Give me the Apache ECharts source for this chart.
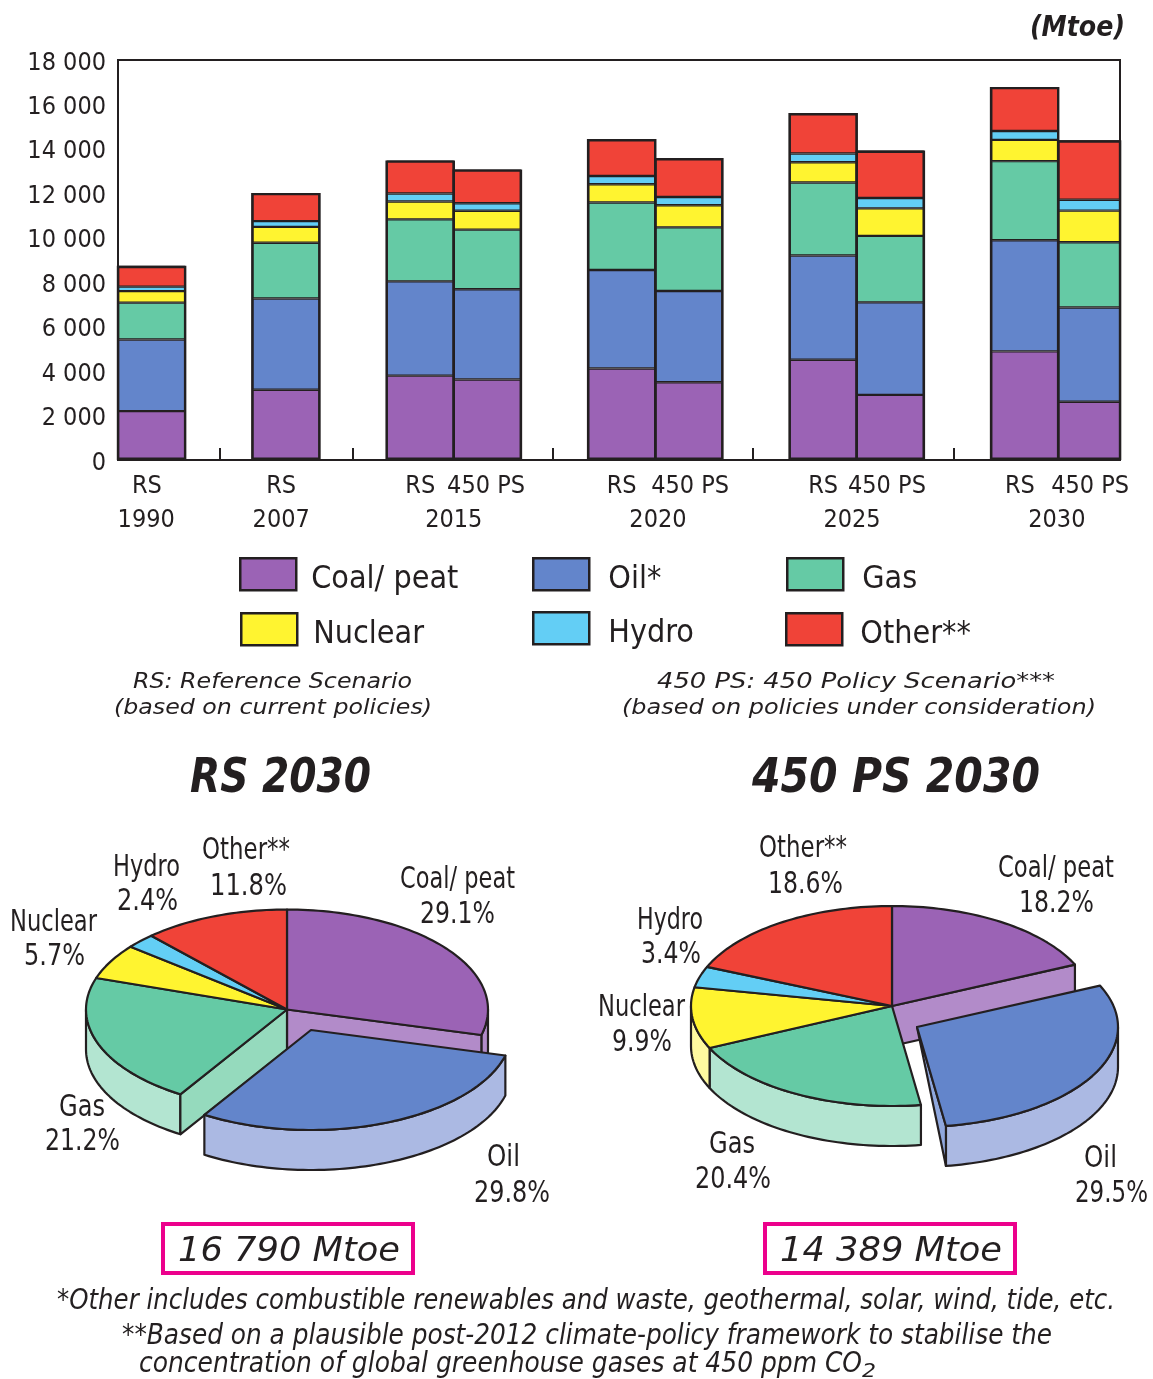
<!DOCTYPE html>
<html>
<head>
<meta charset="utf-8">
<title>World primary energy demand</title>
<style>html,body{margin:0;padding:0;background:#fff}#chart{width:1153px;height:1379px}</style>
<script src="https://cdn.jsdelivr.net/npm/echarts@6/dist/echarts.min.js"></script>
</head>
<body>
<div id="chart"></div>
<script>
// Fuel shares and totals, Mtoe
const fuels = ['Coal/ peat', 'Oil*', 'Gas', 'Nuclear', 'Hydro', 'Other**'];
const coal    = [2200, 3160, 3795, 3625, 4120, 3500, 4510, 2930, 4886, 2619];
const oil     = [3220, 4105, 4245, 4060, 4430, 4105, 4690, 4165, 5003, 4245];
const gas     = [1660, 2510, 2790, 2680, 3040, 2865, 3285, 2990, 3559, 2935];
const nuclear = [ 520,  715,  805,  850,  820,  995,  915, 1240,  957, 1425];
const hydro   = [ 200,  260,  355,  340,  370,  370,  390,  465,  403,  489];
const other   = [ 940, 1270, 1490, 1520, 1660, 1750, 1825, 2135, 1982, 2676];
const fuelValues = [coal, oil, gas, nuclear, hydro, other];

// Bar slots along the horizontal axis; gaps between the scenario years stay empty.
// The final bar is a little narrower so that it ends on the plot frame.
const barSlots = [0.5, 2.5, 4.5, 5.5, 7.5, 8.5, 10.5, 11.5, 13.5, 14.46];
const scenarioLabels = ['RS', 'RS', 'RS', '450 PS', 'RS', '450 PS', 'RS', '450 PS', 'RS', '450 PS'];
const scenarioLabelSlots = [0.43, 2.43, 4.5, 5.48, 7.5, 8.52, 10.5, 11.45, 13.43, 14.475];
const yearLabels = ['1990', '2007', '2015', '2020', '2025', '2030'];
const yearLabelSlots = [0.42, 2.43, 5.0, 8.04, 10.93, 13.98];
const groupTicks = [1.52, 3.5, 6.48, 9.45, 12.45];
const axisSlots = 14.92;

const rsShares  = [29.1, 29.8, 21.2, 5.7, 2.4, 11.8];
const ps4Shares = [18.2, 29.5, 20.4, 9.9, 3.4, 18.6];
const shareNames = ['Coal/ peat', 'Oil', 'Gas', 'Nuclear', 'Hydro', 'Other**'];

const fuelColors = ['#9b63b5', '#6385cb', '#65caa5', '#fff430', '#63cef5', '#f04338'];
const outerWallColors = ['#b28bc9', '#abb9e3', '#b3e5d1', '#fffaa0', '#a8e4f9', '#f79a93'];
const cutWallColors = ['#b28bc9', '#8fa7dd', '#95dabd', '#fffaa0', '#a8e4f9', '#f79a93'];
const ink = '#231f20';
const pink = '#ec008c';

const narrow = '"DejaVu Sans Condensed","DejaVu Sans",sans-serif';

// Horizontally fitted text: squeezes a label into the span [left, right]
const ruler = document.createElement('canvas').getContext('2d');
function fitted(text, left, right, baseline, size, opts) {
  opts = opts || {};
  const style = opts.style || 'normal', weight = opts.weight || 'normal';
  ruler.font = style + ' ' + weight + ' ' + size + 'px "DejaVu Sans"';
  const natural = ruler.measureText(text).width;
  return {
    type: 'text', x: left, y: baseline - size * 0.27,
    scaleX: (right - left) / natural, silent: true, z: 10,
    style: {
      text: text, fill: ink, fontFamily: 'DejaVu Sans', fontSize: size,
      fontStyle: style, fontWeight: weight, textAlign: 'left', textVerticalAlign: 'middle'
    }
  };
}

// Tilted, extruded pie drawn from shares; one slice may be pulled out
function tiltedPie(name, shares, cx, cy, offset) {
  const rx = 201, ry = 100, depth = 40, pulled = 1;
  const total = shares.reduce((a, b) => a + b, 0);
  const bounds = [0];
  shares.forEach(v => bounds.push(bounds[bounds.length - 1] + v / total * 360));
  const rad = d => d * Math.PI / 180;
  const rimPoint = (ox, oy, deg, drop) => [ox + rx * Math.sin(rad(deg)), oy - ry * Math.cos(rad(deg)) + drop];
  const arc = (ox, oy, a, b, drop) => {
    const n = Math.max(2, Math.ceil((b - a) / 1.5)), pts = [];
    for (let i = 0; i <= n; i++) pts.push(rimPoint(ox, oy, a + (b - a) * i / n, drop));
    return pts;
  };
  const piece = (points, fill, z2) => ({
    type: 'polygon', z2: z2, shape: { points: points },
    style: { fill: fill, stroke: ink, lineWidth: 2.2, lineJoin: 'round' }
  });
  return {
    type: 'custom', name: name, coordinateSystem: 'none', silent: true,
    data: shares,
    renderItem: function (params) {
      const i = params.dataIndex, a = bounds[i], b = bounds[i + 1];
      const isPulled = i === pulled, near = Math.abs(i - pulled) === 1;
      const ox = cx + (isPulled ? offset[0] : 0), oy = cy + (isPulled ? offset[1] : 0);
      const base = isPulled ? 3 : 1, children = [];
      // outer rim wall on the front half only
      const fa = Math.max(a, 90), fb = Math.min(b, 270);
      if (fb > fa) {
        children.push(piece(arc(ox, oy, fa, fb, 0).concat(arc(ox, oy, fa, fb, depth).reverse()), outerWallColors[i], base));
      }
      // cut faces exposed by the pulled-out slice
      if (isPulled || near) {
        [[a, Math.sin(rad(a)) < 0], [b, Math.sin(rad(b)) > 0]].forEach(function (edge) {
          if (!edge[1]) return;
          const top = rimPoint(ox, oy, edge[0], 0), low = rimPoint(ox, oy, edge[0], depth);
          const pts = isPulled ? [[ox, oy], top, low] : [[ox, oy], top, low, [ox, oy + depth]];
          children.push(piece(pts, cutWallColors[i], base));
        });
      }
      children.push(piece([[ox, oy]].concat(arc(ox, oy, a, b, 0)), fuelColors[i], base + 1));
      return { type: 'group', children: children };
    }
  };
}

// Bar borders are drawn inside each rectangle, so segments touching double up:
// segments carry half the line width and an outline series restores the outer edge.
const segmentLine = 1.2;
const lastBar = barSlots.length - 1;
const columnTotals = barSlots.map((_, i) => fuelValues.reduce((sum, values) => sum + values[i], 0));
const barSeries = [];
fuels.forEach((name, f) => {
  const style = { color: fuelColors[f], borderColor: ink, borderWidth: segmentLine };
  // value first in each pair so the stack accumulates along the vertical axis
  barSeries.push({
    type: 'bar', name: name, stack: 'energy', barWidth: 67.15,
    xAxisIndex: 0, yAxisIndex: 0, encode: { x: 1, y: 0 }, itemStyle: style,
    data: fuelValues[f].slice(0, lastBar).map((v, i) => [v, barSlots[i]])
  });
  barSeries.push({
    type: 'bar', name: name, stack: 'energyLast', barWidth: 62,
    xAxisIndex: 2, yAxisIndex: 0, encode: { x: 1, y: 0 }, itemStyle: style,
    data: [[fuelValues[f][lastBar], barSlots[lastBar]]]
  });
});
const outlineStyle = { color: 'transparent', borderColor: ink, borderWidth: segmentLine * 2 };
barSeries.push({
  type: 'bar', name: 'column outline', barWidth: 67.15 + segmentLine * 2, z: 3,
  xAxisIndex: 3, yAxisIndex: 0, encode: { x: 1, y: 0 }, itemStyle: outlineStyle,
  data: columnTotals.slice(0, lastBar).map((v, i) => [v, barSlots[i]])
});
barSeries.push({
  type: 'bar', name: 'last column outline', barWidth: 62 + segmentLine * 2, z: 3,
  xAxisIndex: 4, yAxisIndex: 0, encode: { x: 1, y: 0 }, itemStyle: outlineStyle,
  data: [[columnTotals[lastBar], barSlots[lastBar]]]
});

// One legend block per swatch: [left, top, gap to its text]
const legendSpots = [[239, 557, 10], [532, 557, 14], [786, 557, 14], [240, 612, 11], [532, 611, 14], [785, 612, 13]];
const legends = fuels.map((name, f) => ({
  data: [{ name: name, icon: 'rect' }], left: legendSpots[f][0], top: legendSpots[f][1], padding: 0,
  itemWidth: 56, itemHeight: 32, selectedMode: false,
  itemStyle: { borderColor: ink, borderWidth: 2.5 },
  formatter: '{t|{name}}',
  textStyle: {
    rich: { t: { fontFamily: 'DejaVu Sans Condensed', fontSize: 32, color: ink, padding: [10, 0, 0, legendSpots[f][2]] } }
  }
}));

const texts = [
  fitted('(Mtoe)', 1030, 1125, 36, 28, { style: 'italic', weight: 'bold' }),
  fitted('RS: Reference Scenario', 133, 412, 688, 22, { style: 'italic' }),
  fitted('(based on current policies)', 114, 432, 714, 22, { style: 'italic' }),
  fitted('450 PS: 450 Policy Scenario***', 657, 1055, 688, 22, { style: 'italic' }),
  fitted('(based on policies under consideration)', 622, 1096, 714, 22, { style: 'italic' }),
  fitted('RS 2030', 190, 371, 792, 48, { style: 'italic', weight: 'bold' }),
  fitted('450 PS 2030', 752, 1040, 792, 48, { style: 'italic', weight: 'bold' }),
  fitted('16 790 Mtoe', 178, 400, 1261, 34, { style: 'italic' }),
  fitted('14 389 Mtoe', 780, 1002, 1261, 34, { style: 'italic' }),
  fitted('*Other includes combustible renewables and waste, geothermal, solar, wind, tide, etc.', 57, 1115, 1309, 28, { style: 'italic' }),
  fitted('**Based on a plausible post-2012 climate-policy framework to stabilise the', 122, 1052, 1344, 28, { style: 'italic' }),
  fitted('concentration of global greenhouse gases at 450 ppm CO', 139, 862, 1372, 28, { style: 'italic' }),
  fitted('2', 862, 876, 1377, 20, { style: 'italic' })
];

// Slice captions around each pie: [text, left, right, baseline]
const captions = [
  [shareNames[5], 202, 290, 859], [rsShares[5] + '%', 210, 287, 895],
  [shareNames[4], 113, 180, 876], [rsShares[4] + '%', 117, 178, 910],
  [shareNames[3], 10, 97, 931], [rsShares[3] + '%', 24, 85, 965],
  [shareNames[0], 400, 515, 888], [rsShares[0] + '%', 420, 495, 923],
  [shareNames[2], 59, 105, 1116], [rsShares[2] + '%', 45, 120, 1150],
  [shareNames[1], 487, 520, 1166], [rsShares[1] + '%', 474, 550, 1202],
  [shareNames[5], 759, 847, 857], [ps4Shares[5] + '%', 768, 843, 893],
  [shareNames[0], 998, 1114, 877], [ps4Shares[0] + '%', 1019, 1094, 912],
  [shareNames[4], 637, 703, 929], [ps4Shares[4] + '%', 641, 701, 963],
  [shareNames[3], 598, 685, 1016], [ps4Shares[3] + '%', 612, 672, 1051],
  [shareNames[2], 709, 755, 1153], [ps4Shares[2] + '%', 695, 771, 1188],
  [shareNames[1], 1084, 1117, 1167], [ps4Shares[1] + '%', 1075, 1148, 1202]
].map(c => fitted(c[0], c[1], c[2], c[3], 31));

const boxes = [[163, 1224], [765, 1224]].map(p => ({
  type: 'rect', silent: true, z: 9,
  shape: { x: p[0], y: p[1], width: 250, height: 49 },
  style: { fill: '#fff', stroke: pink, lineWidth: 4 }
}));

const hiddenSlotAxis = { type: 'value', min: 0, max: axisSlots, position: 'bottom', show: false };

const chart = echarts.init(document.getElementById('chart'), null, { renderer: 'canvas' });
chart.setOption({
  animation: false,
  backgroundColor: '#fff',
  legend: legends,
  grid: { left: 118, top: 60, width: 1002, height: 400, show: true, borderColor: ink, borderWidth: 2, backgroundColor: 'transparent' },
  xAxis: [
    {
      type: 'value', min: 0, max: axisSlots, position: 'bottom',
      splitLine: { show: false },
      axisLine: { show: true, onZero: false, lineStyle: { color: ink, width: 2 } },
      axisTick: { show: true, inside: true, length: 12, customValues: groupTicks, lineStyle: { color: ink, width: 2 } },
      axisLabel: {
        show: true, customValues: scenarioLabelSlots, margin: 14, hideOverlap: false,
        showMinLabel: true, showMaxLabel: true,
        fontFamily: narrow, fontSize: 25, color: ink,
        formatter: v => scenarioLabels[scenarioLabelSlots.indexOf(v)]
      }
    },
    {
      type: 'value', min: 0, max: axisSlots, position: 'bottom', offset: 35,
      splitLine: { show: false }, axisLine: { show: false }, axisTick: { show: false },
      axisLabel: {
        show: true, customValues: yearLabelSlots, margin: 13, hideOverlap: false,
        fontFamily: narrow, fontSize: 25, color: ink,
        formatter: v => yearLabels[yearLabelSlots.indexOf(v)]
      }
    },
    // carries only the narrower final bar
    hiddenSlotAxis,
    // carry the column outlines
    hiddenSlotAxis,
    hiddenSlotAxis
  ],
  yAxis: {
    type: 'value', min: 0, max: 18000, interval: 2000,
    splitLine: { show: false }, axisTick: { show: false },
    axisLine: { show: true, lineStyle: { color: ink, width: 2 } },
    axisLabel: {
      margin: 12, color: ink,
      rich: { t: { fontFamily: narrow, fontSize: 25, color: ink, padding: [6, 0, 0, 0] } },
      formatter: v => '{t|' + (v === 0 ? '0' : String(v).replace(/(\d{3})$/, ' $1')) + '}'
    }
  },
  series: barSeries.concat([
    tiltedPie('RS 2030', rsShares, 287, 1009.5, [24, 20.5]),
    tiltedPie('450 PS 2030', ps4Shares, 892, 1006, [25, 21])
  ]),
  graphic: { elements: boxes.concat(texts, captions) }
});
</script>
</body>
</html>
